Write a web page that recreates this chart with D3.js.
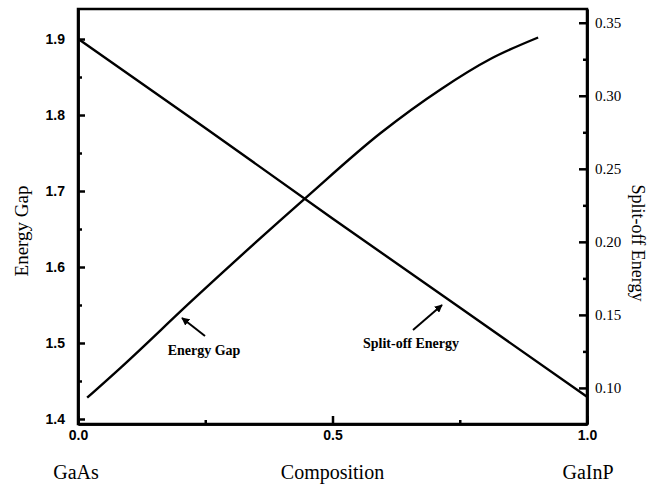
<!DOCTYPE html>
<html>
<head>
<meta charset="utf-8">
<script src="https://cdn.jsdelivr.net/npm/d3@7"></script>
<style>
  body { margin: 0; background: #fff; }
</style>
</head>
<body>
<div id="vis"></div>
<script>
// data
let gapX = [0.018, 0.083, 0.226, 0.449, 0.594, 0.713, 0.811, 0.904];
let gapY = [1.428, 1.467, 1.557, 1.692, 1.776, 1.834, 1.874, 1.902];

let soX = [0.0, 0.25, 0.5, 0.75, 1.0];
let soY = [0.339, 0.278, 0.216, 0.155, 0.094];

let xTicks = [0, 0.5, 1.0];
let xMinor = [0.25, 0.75];
let gapTicks = [1.4, 1.5, 1.6, 1.7, 1.8, 1.9];
let gapMinor = [1.45, 1.55, 1.65, 1.75, 1.85];
let soTicks = [0.10, 0.15, 0.20, 0.25, 0.30, 0.35];
let soMinor = [0.125, 0.175, 0.225, 0.275, 0.325];

let W = 662, H = 485;
let margin = { top: 9, left: 78, right: 75, bottom: 61 },
  width = W - margin.left - margin.right,
  height = H - margin.top - margin.bottom;

let svg = d3.select('#vis')
  .append('svg')
  .attr('width', W)
  .attr('height', H);

let xScale = d3.scaleLinear().domain([0, 1]).range([0, width]),
  yGap = d3.scaleLinear().domain([1.3934, 1.9395]).range([height, 0]),
  ySo = d3.scaleLinear().domain([0.0753, 0.3594]).range([height, 0]);

let g = svg.append('g')
  .attr('transform', 'translate(' + margin.left + ',' + margin.top + ')');

let sans = 'Liberation Sans, Arial, sans-serif';
let serif = 'Liberation Serif, Times New Roman, serif';

// left axis
g.append('g')
  .call(d3.axisLeft(yGap).tickValues(gapMinor).tickSize(-4).tickSizeOuter(0).tickFormat(''));
let gl = g.append('g')
  .call(d3.axisLeft(yGap).tickValues(gapTicks).tickSize(-7).tickSizeOuter(0).tickPadding(13).tickFormat(d3.format('.1f')));
gl.selectAll('text').style('font-family', sans).style('font-weight', 'bold').style('font-size', '14px').attr('fill', '#000');

// right axis
g.append('g')
  .attr('transform', 'translate(' + width + ',0)')
  .call(d3.axisRight(ySo).tickValues(soMinor).tickSize(-4).tickSizeOuter(0).tickFormat(''));
let gr = g.append('g')
  .attr('transform', 'translate(' + width + ',0)')
  .call(d3.axisRight(ySo).tickValues(soTicks).tickSize(-8).tickSizeOuter(0).tickPadding(8).tickFormat(d3.format('.2f')));
gr.selectAll('text').style('font-family', serif).style('font-size', '15px').attr('fill', '#000');

// bottom axis
g.append('g')
  .attr('transform', 'translate(0,' + height + ')')
  .call(d3.axisBottom(xScale).tickValues(xMinor).tickSize(-4).tickSizeOuter(0).tickFormat(''));
let gb = g.append('g')
  .attr('transform', 'translate(0,' + height + ')')
  .call(d3.axisBottom(xScale).tickValues(xTicks).tickSize(-8).tickSizeOuter(0).tickPadding(6).tickFormat(d3.format('.1f')));
gb.selectAll('text').style('font-family', sans).style('font-weight', 'bold').style('font-size', '14px').attr('fill', '#000');

g.selectAll('.domain, .tick line').attr('stroke', '#000').attr('stroke-width', 2.5);

// frame
g.append('rect')
  .attr('width', width)
  .attr('height', height)
  .attr('fill', 'none')
  .attr('stroke', '#000')
  .attr('stroke-width', 2.5);

// curves
let gapLine = d3.line()
  .x(function (d, i) { return xScale(gapX[i]); })
  .y(function (d) { return yGap(d); })
  .curve(d3.curveMonotoneX);
g.append('path')
  .attr('d', gapLine(gapY))
  .attr('fill', 'none')
  .attr('stroke', '#000')
  .attr('stroke-width', 2.4);

let soLine = d3.line()
  .x(function (d, i) { return xScale(soX[i]); })
  .y(function (d) { return ySo(d); });
g.append('path')
  .attr('d', soLine(soY))
  .attr('fill', 'none')
  .attr('stroke', '#000')
  .attr('stroke-width', 2.4);

// axis titles
svg.append('text')
  .attr('text-anchor', 'middle')
  .attr('transform', 'translate(28,231)rotate(-90)')
  .style('font-family', serif)
  .style('font-size', '19px')
  .text('Energy Gap');

svg.append('text')
  .attr('text-anchor', 'middle')
  .attr('transform', 'translate(632,243)rotate(90)')
  .style('font-family', serif)
  .style('font-size', '18px')
  .text('Split-off Energy');

svg.append('text')
  .attr('x', 76).attr('y', 479)
  .attr('text-anchor', 'middle')
  .style('font-family', serif)
  .style('font-size', '20px')
  .text('GaAs');

svg.append('text')
  .attr('x', margin.left + xScale(0.5)).attr('y', 479)
  .attr('text-anchor', 'middle')
  .style('font-family', serif)
  .style('font-size', '20px')
  .text('Composition');

svg.append('text')
  .attr('x', 588).attr('y', 479)
  .attr('text-anchor', 'middle')
  .style('font-family', serif)
  .style('font-size', '20px')
  .text('GaInP');

// annotations with arrows
svg.append('defs').append('marker')
  .attr('id', 'head')
  .attr('viewBox', '0 0 10 10')
  .attr('refX', 9).attr('refY', 5)
  .attr('markerWidth', 4).attr('markerHeight', 4)
  .attr('orient', 'auto')
  .append('path')
  .attr('d', 'M0,0L10,5L0,10z')
  .attr('fill', '#000');

svg.append('line')
  .attr('x1', 205).attr('y1', 336).attr('x2', 182).attr('y2', 318)
  .attr('stroke', '#000').attr('stroke-width', 2)
  .attr('marker-end', 'url(#head)');
svg.append('text')
  .attr('x', 204).attr('y', 355)
  .attr('text-anchor', 'middle')
  .style('font-family', serif)
  .style('font-weight', 'bold')
  .style('font-size', '14px')
  .text('Energy Gap');

svg.append('line')
  .attr('x1', 413).attr('y1', 330).attr('x2', 442).attr('y2', 305)
  .attr('stroke', '#000').attr('stroke-width', 2)
  .attr('marker-end', 'url(#head)');
svg.append('text')
  .attr('x', 411).attr('y', 348)
  .attr('text-anchor', 'middle')
  .style('font-family', serif)
  .style('font-weight', 'bold')
  .style('font-size', '14px')
  .text('Split-off Energy');
</script>
</body>
</html>
